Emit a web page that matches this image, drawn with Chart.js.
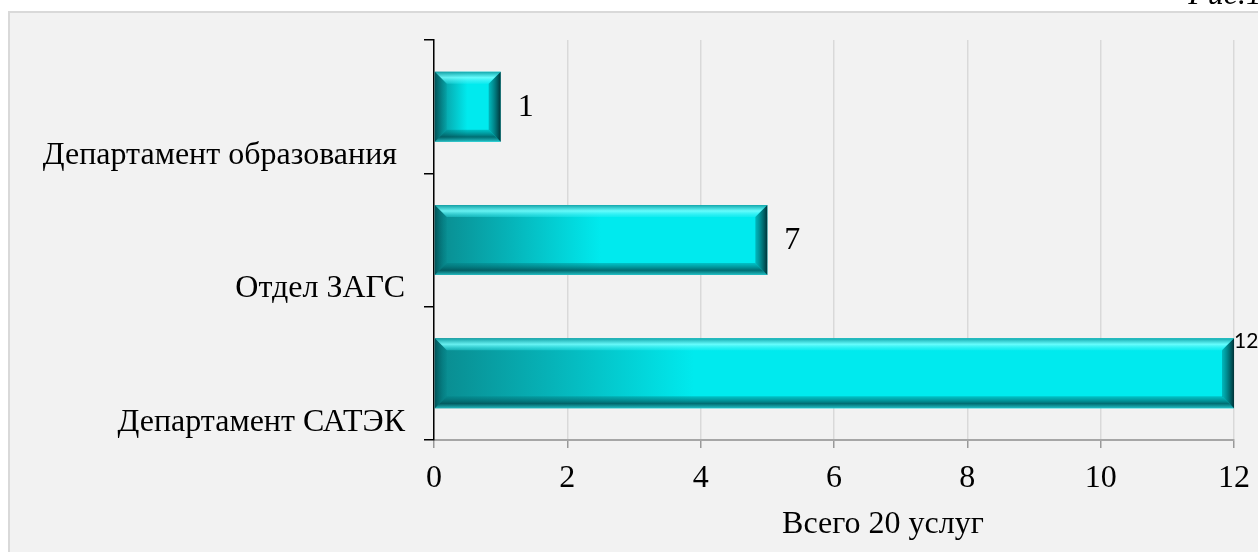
<!DOCTYPE html>
<html>
<head>
<meta charset="utf-8">
<script src="https://cdn.jsdelivr.net/npm/chart.js@4"></script>
<style>
  html, body { margin: 0; padding: 0; background: #fff; }
  #wrap { width: 1258px; height: 552px; position: relative; }
</style>
</head>
<body>
<div id="wrap"><canvas id="chart"></canvas></div>
<script>
// data
const categories = ["Департамент образования ", "Отдел ЗАГС", "Департамент САТЭК"];
const values = [1, 5, 12];
const valueLabels = ["1", "7", "12"];
const xTicks = [0, 2, 4, 6, 8, 10, 12];
const axisTitle = "Всего 20 услуг";
const figCaption = "Рис.1";

const serif = "'Liberation Serif', 'Times New Roman', serif";

// grey panel behind the chart, clipped caption on top, axis title below
const panelPlugin = {
  id: "panel",
  beforeDraw(chart) {
    const c = chart.ctx;
    c.save();
    c.fillStyle = "#ffffff";
    c.fillRect(0, 0, chart.width, chart.height);
    c.fillStyle = "#f2f2f2";
    c.fillRect(8, 11, chart.width - 8, chart.height - 11);
    c.strokeStyle = "#d9d9d9";
    c.lineWidth = 2;
    c.strokeRect(9, 12, chart.width, chart.height);
    c.fillStyle = "#000";
    c.font = "italic 32px " + serif;
    c.textAlign = "right";
    c.textBaseline = "alphabetic";
    c.fillText(figCaption, 1262, 4);
    c.restore();
  },
  afterDraw(chart) {
    const c = chart.ctx;
    const area = chart.chartArea;
    c.save();
    c.fillStyle = "#000";
    c.font = "32px " + serif;
    c.textAlign = "center";
    c.textBaseline = "alphabetic";
    c.fillText(axisTitle, (area.left + area.right) / 2 + 49, 533);
    c.restore();
  },
};

// bevel edges on the bars and the value labels
const bevelPlugin = {
  id: "bevel",
  afterDatasetsDraw(chart) {
    const c = chart.ctx;
    const meta = chart.getDatasetMeta(0);
    meta.data.forEach((bar, i) => {
      const left = Math.min(bar.x, bar.base);
      const right = Math.max(bar.x, bar.base);
      const top = bar.y - bar.height / 2;
      const bottom = bar.y + bar.height / 2;
      if (![left, right, top, bottom].every(Number.isFinite)) return;
      const b = Math.min(12, (right - left) / 3);
      c.save();
      // top edge
      let g = c.createLinearGradient(0, top, 0, top + b);
      g.addColorStop(0, "rgba(20,160,165,0.9)");
      g.addColorStop(0.5, "rgba(120,255,255,0.85)");
      g.addColorStop(1, "rgba(60,240,245,0.3)");
      c.fillStyle = g;
      c.beginPath();
      c.moveTo(left, top); c.lineTo(right, top);
      c.lineTo(right - b, top + b); c.lineTo(left + b, top + b);
      c.closePath(); c.fill();
      // bottom edge
      g = c.createLinearGradient(0, bottom - b, 0, bottom);
      g.addColorStop(0, "rgba(0,120,125,0.35)");
      g.addColorStop(0.6, "rgba(0,80,85,0.8)");
      g.addColorStop(1, "rgba(40,190,195,0.9)");
      c.fillStyle = g;
      c.beginPath();
      c.moveTo(left, bottom); c.lineTo(right, bottom);
      c.lineTo(right - b, bottom - b); c.lineTo(left + b, bottom - b);
      c.closePath(); c.fill();
      // right edge
      g = c.createLinearGradient(right - b, 0, right, 0);
      g.addColorStop(0, "rgba(0,110,115,0.4)");
      g.addColorStop(1, "rgba(0,40,45,0.95)");
      c.fillStyle = g;
      c.beginPath();
      c.moveTo(right, top); c.lineTo(right, bottom);
      c.lineTo(right - b, bottom - b); c.lineTo(right - b, top + b);
      c.closePath(); c.fill();
      // left edge
      g = c.createLinearGradient(left, 0, left + b, 0);
      g.addColorStop(0, "rgba(0,70,75,0.8)");
      g.addColorStop(1, "rgba(0,120,125,0.2)");
      c.fillStyle = g;
      c.beginPath();
      c.moveTo(left, top); c.lineTo(left, bottom);
      c.lineTo(left + b, bottom - b); c.lineTo(left + b, top + b);
      c.closePath(); c.fill();
      c.restore();

      // value label
      c.save();
      c.fillStyle = "#000";
      c.textAlign = "left";
      c.textBaseline = "middle";
      if (i === meta.data.length - 1) {
        c.font = "21px Lato, 'Open Sans', sans-serif";
        c.fillText(valueLabels[i], right, top + 3);
      } else {
        c.font = "32px " + serif;
        c.fillText(valueLabels[i], right + 17, bar.y + 1);
      }
      c.restore();
    });
  },
};

function barGradient(ctx) {
  const chart = ctx.chart;
  const xs = chart.scales.x;
  if (!xs || ctx.type !== "data") return "#00eaee";
  const left = xs.getPixelForValue(0);
  const right = xs.getPixelForValue(values[ctx.dataIndex]);
  if (!Number.isFinite(left) || !Number.isFinite(right) || right <= left) return "#00eaee";
  const w = right - left;
  const end = left + Math.min(w * 0.5, 260);
  const g = chart.ctx.createLinearGradient(left, 0, end, 0);
  g.addColorStop(0, "#0a8a8e");
  g.addColorStop(0.45, "#06b3b8");
  g.addColorStop(1, "#00eaee");
  return g;
}

new Chart(document.getElementById("chart"), {
  type: "bar",
  data: {
    labels: categories,
    datasets: [{
      data: values,
      backgroundColor: barGradient,
      borderWidth: 0,
      categoryPercentage: 1,
      barPercentage: 0.525,
    }],
  },
  plugins: [panelPlugin, bevelPlugin],
  options: {
    indexAxis: "y",
    responsive: true,
    maintainAspectRatio: false,
    animation: false,
    layout: { padding: { left: 0, top: 40, right: 24, bottom: 0 } },
    plugins: { legend: { display: false }, tooltip: { enabled: false } },
    scales: {
      x: {
        min: 0,
        max: 12,
        afterBuildTicks(scale) { scale.ticks = xTicks.map(v => ({ value: v })); },
        afterFit(scale) {
          scale.height = 112;
          scale.paddingLeft = 0;
          scale.paddingRight = 0;
        },
        ticks: {
          color: "#000",
          font: { family: serif, size: 32 },
          padding: 11,
        },
        grid: { color: "#d9d9d9", lineWidth: 1.5, tickColor: "#999", tickLength: 8 },
        border: { color: "#a6a6a6", width: 2 },
      },
      y: {
        afterFit(scale) { scale.width = 434; },
        ticks: {
          color: "#000",
          font: { family: serif, size: 32 },
          padding: 19,
          labelOffset: 49,
        },
        grid: { offset: true, drawOnChartArea: false, color: "#000", tickLength: 10, lineWidth: 1.5 },
        border: { color: "#000", width: 1.5 },
      },
    },
  },
});
</script>
</body>
</html>
